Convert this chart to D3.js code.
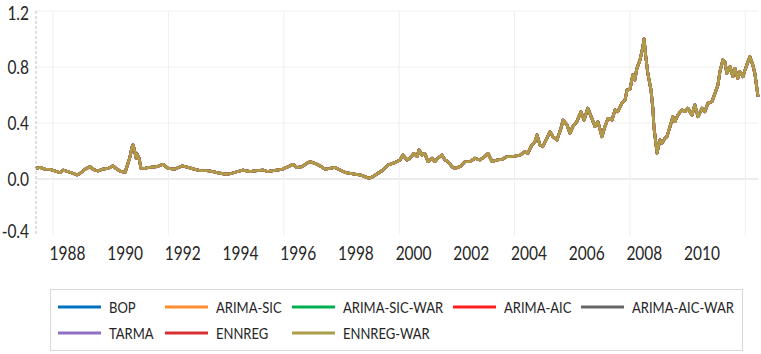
<!DOCTYPE html>
<html>
<head>
<meta charset="utf-8">
<script src="https://cdn.jsdelivr.net/npm/d3@7"></script>
<style>
  body { margin: 0; background: #fff; }
  text { font-family: Lato, "Open Sans", sans-serif; fill: #262626; }
</style>
</head>
<body>
<div id="chart"></div>
<script>

// *** DATA ***

let seriesNames = ["BOP", "ARIMA-SIC", "ARIMA-SIC-WAR", "ARIMA-AIC", "ARIMA-AIC-WAR", "TARMA", "ENNREG", "ENNREG-WAR"];
let seriesColors = ["#0070C0", "#FF8B2C", "#00B050", "#FF1E1E", "#666666", "#8F6FC4", "#D62F2F", "#AC9D48"];

// decimal years of the observations
let years = [1987.41, 1987.55, 1987.72, 1987.90, 1988.07, 1988.24, 1988.35, 1988.52, 1988.69, 1988.83,
  1988.94, 1989.11, 1989.28, 1989.39, 1989.56, 1989.73, 1989.91, 1990.08, 1990.18, 1990.32,
  1990.50, 1990.60, 1990.67, 1990.74, 1990.77, 1990.81, 1990.88, 1990.91, 1990.98, 1991.05,
  1991.19, 1991.29, 1991.36, 1991.60, 1991.81, 1991.99, 1992.23, 1992.47, 1992.68, 1992.92,
  1993.10, 1993.34, 1993.55, 1993.79, 1994.03, 1994.20, 1994.38, 1994.59, 1994.83, 1995.07,
  1995.28, 1995.45, 1995.52, 1995.76, 1995.97, 1996.15, 1996.32, 1996.46, 1996.63, 1996.80,
  1996.91, 1997.08, 1997.25, 1997.43, 1997.60, 1997.77, 1997.95, 1998.12, 1998.29, 1998.47,
  1998.64, 1998.81, 1998.95, 1999.09, 1999.27, 1999.44, 1999.61, 1999.85, 2000.03, 2000.13,
  2000.27, 2000.37, 2000.51, 2000.62, 2000.69, 2000.79, 2000.89, 2001.00, 2001.14, 2001.24,
  2001.34, 2001.48, 2001.59, 2001.69, 2001.83, 2001.93, 2002.11, 2002.28, 2002.45, 2002.63,
  2002.80, 2002.97, 2003.08, 2003.22, 2003.39, 2003.56, 2003.74, 2003.84, 2004.01, 2004.19,
  2004.36, 2004.46, 2004.60, 2004.71, 2004.78, 2004.88, 2004.98, 2005.12, 2005.23, 2005.33,
  2005.47, 2005.61, 2005.68, 2005.82, 2005.92, 2006.02, 2006.16, 2006.30, 2006.41, 2006.54,
  2006.68, 2006.79, 2006.89, 2007.03, 2007.13, 2007.24, 2007.38, 2007.48, 2007.58, 2007.72,
  2007.83, 2007.90, 2008.00, 2008.10, 2008.17, 2008.24, 2008.35, 2008.45, 2008.49, 2008.55,
  2008.62, 2008.73, 2008.80, 2008.83, 2008.90, 2008.94, 2009.04, 2009.11, 2009.21, 2009.28,
  2009.39, 2009.49, 2009.56, 2009.66, 2009.80, 2009.91, 2010.01, 2010.15, 2010.25, 2010.36,
  2010.50, 2010.60, 2010.70, 2010.84, 2010.95, 2011.05, 2011.12, 2011.22, 2011.29, 2011.36,
  2011.47, 2011.57, 2011.64, 2011.74, 2011.81, 2011.92, 2011.99, 2012.09, 2012.16, 2012.26,
  2012.33, 2012.44];

// forecast values (all series overlap, ENNREG-WAR is drawn on top)
let values = [0.076, 0.083, 0.071, 0.069, 0.057, 0.045, 0.064, 0.052, 0.041, 0.029,
  0.041, 0.069, 0.088, 0.069, 0.057, 0.071, 0.076, 0.095, 0.076, 0.057,
  0.048, 0.112, 0.160, 0.230, 0.243, 0.220, 0.148, 0.180, 0.150, 0.076,
  0.076, 0.083, 0.083, 0.088, 0.105, 0.076, 0.071, 0.093, 0.083, 0.069,
  0.060, 0.060, 0.052, 0.041, 0.034, 0.041, 0.052, 0.064, 0.052, 0.060,
  0.064, 0.052, 0.057, 0.064, 0.071, 0.088, 0.105, 0.081, 0.088, 0.112,
  0.124, 0.112, 0.095, 0.071, 0.076, 0.083, 0.064, 0.048, 0.041, 0.034,
  0.029, 0.017, 0.005, 0.017, 0.041, 0.064, 0.100, 0.117, 0.136, 0.171,
  0.136, 0.148, 0.183, 0.160, 0.207, 0.171, 0.183, 0.124, 0.148, 0.124,
  0.148, 0.171, 0.136, 0.124, 0.088, 0.076, 0.088, 0.124, 0.124, 0.148,
  0.136, 0.160, 0.183, 0.124, 0.136, 0.140, 0.160, 0.160, 0.164, 0.171,
  0.195, 0.183, 0.243, 0.267, 0.314, 0.243, 0.231, 0.290, 0.338, 0.302,
  0.279, 0.362, 0.421, 0.386, 0.326, 0.374, 0.410, 0.481, 0.421, 0.505,
  0.433, 0.374, 0.410, 0.302, 0.374, 0.433, 0.421, 0.493, 0.481, 0.540,
  0.564, 0.636, 0.640, 0.743, 0.707, 0.790, 0.850, 0.945, 1.000, 0.874,
  0.755, 0.636, 0.493, 0.374, 0.255, 0.186, 0.279, 0.255, 0.290, 0.302,
  0.374, 0.445, 0.410, 0.457, 0.493, 0.481, 0.505, 0.457, 0.529, 0.445,
  0.505, 0.481, 0.540, 0.552, 0.612, 0.671, 0.767, 0.850, 0.838, 0.755,
  0.802, 0.731, 0.790, 0.719, 0.767, 0.731, 0.779, 0.838, 0.874, 0.814,
  0.755, 0.588];

let yTicks = [-0.4, 0.0, 0.4, 0.8, 1.2];
let xLabelYears = [1988, 1990, 1992, 1994, 1996, 1998, 2000, 2002, 2004, 2006, 2008, 2010];
let xGridYears = [1988, 1992, 1996, 2000, 2004, 2008, 2012];

// *** SETTINGS ***

let width = 761, height = 354;
let plot = {left: 36, right: 758, top: 11, bottom: 235};
let tickFont = "15.5px", lgFont = "13px";
let stretch = "scale(1,1.22)";   // taller glyphs like the original

let svg = d3.select("#chart").append("svg")
  .attr("width", width)
  .attr("height", height);

let x = d3.scaleLinear()
  .domain([years[0], years[years.length - 1]])
  .range([plot.left, plot.right]);

let y = d3.scaleLinear()
  .domain([-0.4, 1.2])
  .range([plot.bottom, plot.top]);

//Horizontal gridlines
svg.append("g").selectAll("line")
  .data(yTicks.filter(d => d != -0.4))
  .enter()
  .append("line")
    .attr("x1", plot.left)
    .attr("x2", plot.right)
    .attr("y1", d => y(d))
    .attr("y2", d => y(d))
    .attr("stroke", d => d == 0 ? "#D9D9D9" : "#EFEFEF")
    .attr("stroke-width", 1);

//Vertical gridlines
svg.append("g").selectAll("line")
  .data(xGridYears)
  .enter()
  .append("line")
    .attr("x1", d => x(d))
    .attr("x2", d => x(d))
    .attr("y1", plot.top)
    .attr("y2", plot.bottom)
    .attr("stroke", "#EFEFEF")
    .attr("stroke-width", 1);

//Dashed y axis
svg.append("line")
  .attr("x1", plot.left)
  .attr("x2", plot.left)
  .attr("y1", plot.top)
  .attr("y2", plot.bottom)
  .attr("stroke", "#BFBFBF")
  .attr("stroke-dasharray", "3,2")
  .attr("stroke-width", 1);

//Y labels (end labels kept inside the plot height, plain hyphen as minus)
svg.append("g").selectAll("text")
  .data(yTicks)
  .enter()
  .append("text")
    .attr("transform", d => "translate(29," + Math.min(Math.max(y(d), plot.top + 2.5), plot.bottom - 3.5) + ") " + stretch)
    .attr("dy", "0.35em")
    .attr("text-anchor", "end")
    .style("font-size", tickFont)
    .text(d => d.toFixed(1));

//X labels (centred on mid-year)
svg.append("g").selectAll("text")
  .data(xLabelYears)
  .enter()
  .append("text")
    .attr("transform", d => "translate(" + x(d + 0.5) + ",253) " + stretch)
    .attr("dy", "0.35em")
    .attr("text-anchor", "middle")
    .style("font-size", tickFont)
    .text(d => d);

//Lines
let line = d3.line()
  .x((d, i) => x(years[i]))
  .y(d => y(d));

svg.append("g").selectAll("path")
  .data(seriesNames)
  .enter()
  .append("path")
    .attr("d", () => line(values))
    .attr("fill", "none")
    .attr("stroke", (d, i) => seriesColors[i])
    .attr("stroke-width", 2.8)
    .attr("stroke-linejoin", "round");

//Legend
let legend = svg.append("g").attr("class", "legend");
legend.append("rect")
  .attr("x", 50.5)
  .attr("y", 289.5)
  .attr("width", 692)
  .attr("height", 61)
  .attr("fill", "#fff")
  .attr("stroke", "#D9D9D9");

let colX = [58, 165, 292, 453, 581], rowY = [307, 333];
let nCols = colX.length;

let items = legend.selectAll("g.item")
  .data(seriesNames)
  .enter()
  .append("g")
    .attr("class", "item")
    .attr("transform", (d, i) => "translate(" + colX[i % nCols] + "," + rowY[Math.floor(i / nCols)] + ")");

items.append("line")
  .attr("x1", 0)
  .attr("x2", 43)
  .attr("stroke", (d, i) => seriesColors[i])
  .attr("stroke-width", 3);

items.append("text")
  .attr("transform", "translate(51,0) " + stretch)
  .attr("dy", "0.35em")
  .style("font-size", lgFont)
  .text(d => d);

</script>
</body>
</html>
